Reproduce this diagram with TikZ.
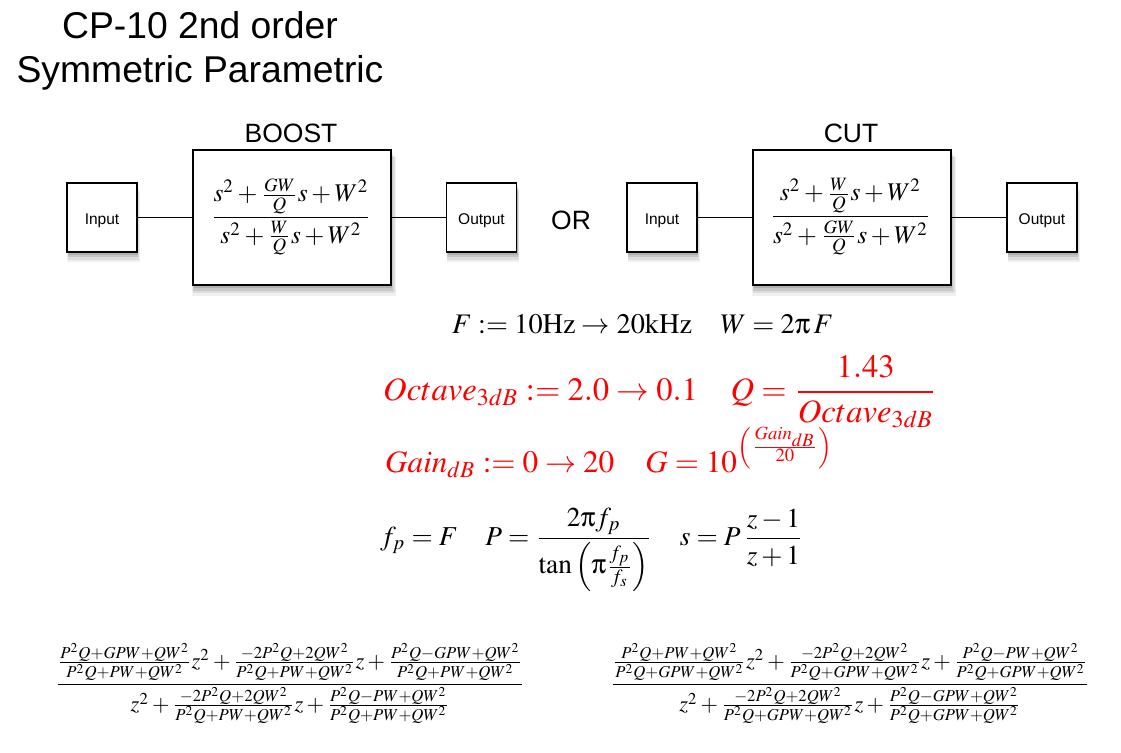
\documentclass[tikz,border=0pt]{standalone}
\usepackage{mathptmx}
\usepackage[Symbol]{upgreek}
\usepackage[no-math]{fontspec}
\setmainfont{Liberation Sans}
\usepackage{graphicx}
\usetikzlibrary{shadows}
\tikzset{
  myshadow/.style={
    drop shadow={shadow xshift=1pt,shadow yshift=-3pt,opacity=0.10,fill=black,shadow scale=1.00},
    drop shadow={shadow xshift=1pt,shadow yshift=-5pt,opacity=0.10,fill=black,shadow scale=1.01},
    drop shadow={shadow xshift=1.5pt,shadow yshift=-7pt,opacity=0.08,fill=black,shadow scale=1.02},
    drop shadow={shadow xshift=1.5pt,shadow yshift=-9pt,opacity=0.06,fill=black,shadow scale=1.03}
  },
  smallbox/.style={draw=black, line width=1.2pt, fill=white, myshadow,
    minimum width=70pt, minimum height=69pt, inner sep=0pt,
    text height=13pt, text depth=0pt,
    font=\fontsize{15.5}{18}\selectfont},
  bigbox/.style={draw=black, line width=1.2pt, fill=white, myshadow,
    minimum width=198pt, minimum height=135pt, inner sep=0pt},
  wire/.style={line width=1.2pt},
  label/.style={inner sep=0pt, anchor=base, font=\fontsize{26.5}{30}\selectfont},
  eqn/.style={inner sep=0pt}
}
\begin{document}
\begin{tikzpicture}[x=1pt,y=-1pt]
\useasboundingbox[fill=white] (0,0) rectangle (1121,752);

% title
\node[inner sep=0pt, anchor=base, font=\fontsize{37.3}{44}\selectfont] (t1) at (200,38) {CP-10 2nd order};
\node[inner sep=0pt, anchor=base, font=\fontsize{37.3}{44}\selectfont] (t2) at (200,82) {Symmetric Parametric};

% BOOST
\node[label] (lb) at (291,142) {BOOST};
\node[smallbox] (in1) at (102,217.5) {Input};
\node[bigbox] (b1) at (292,217.5) {};
\node[eqn] (f1) at (291,217) {\resizebox{161pt}{!}{$\displaystyle\frac{s^2+\frac{GW}{Q}s+W^2}{s^2+\frac{W}{Q}s+W^2}$}};
\node[smallbox] (out1) at (481.5,217.5) {Output};
\draw[wire] (in1) -- (b1);
\draw[wire] (b1) -- (out1);

\node[label] (or) at (571,229) {OR};

% CUT
\node[label] (lc) at (851,142) {CUT};
\node[smallbox] (in2) at (662,217.5) {Input};
\node[bigbox] (b2) at (852,217.5) {};
\node[eqn] (f2) at (850.5,217) {\resizebox{161pt}{!}{$\displaystyle\frac{s^2+\frac{W}{Q}s+W^2}{s^2+\frac{GW}{Q}s+W^2}$}};
\node[smallbox] (out2) at (1042,217.5) {Output};
\draw[wire] (in2) -- (b2);
\draw[wire] (b2) -- (out2);

% equations
\node[eqn, anchor=base west] (e1) at (452,333) {\resizebox{381pt}{!}{$F := 10\mathrm{Hz}\rightarrow 20\mathrm{kHz}\quad W=2\uppi\,F$}};
\node[eqn, anchor=base west, text=red] (e2) at (383,400) {\resizebox{554pt}{!}{$\displaystyle Octave_{3dB} := 2.0\rightarrow 0.1\quad Q=\frac{1.43}{Octave_{3dB}}$}};
\node[eqn, anchor=base west, text=red] (e3) at (385,472) {\resizebox{449pt}{!}{$\displaystyle Gain_{dB} := 0\rightarrow 20\quad G=10^{\left(\frac{Gain_{dB}}{20}\right)}$}};
\node[eqn, anchor=west] (e4) at (380,550) {\resizebox{423pt}{!}{$\displaystyle f_p=F\quad P=\frac{2\uppi f_p}{\tan\left(\uppi\frac{f_p}{f_s}\right)}\quad s=P\,\frac{z-1}{z+1}$}};

% discrete transfer functions
\node[eqn] (d1) at (290,683.5) {\resizebox{470pt}{!}{$\displaystyle\frac{\frac{P^2Q+GPW+QW^2}{P^2Q+PW+QW^2}z^2+\frac{-2P^2Q+2QW^2}{P^2Q+PW+QW^2}z+\frac{P^2Q-GPW+QW^2}{P^2Q+PW+QW^2}}{z^2+\frac{-2P^2Q+2QW^2}{P^2Q+PW+QW^2}z+\frac{P^2Q-PW+QW^2}{P^2Q+PW+QW^2}}$}};
\node[eqn] (d2) at (850,683.5) {\resizebox{480pt}{!}{$\displaystyle\frac{\frac{P^2Q+PW+QW^2}{P^2Q+GPW+QW^2}z^2+\frac{-2P^2Q+2QW^2}{P^2Q+GPW+QW^2}z+\frac{P^2Q-PW+QW^2}{P^2Q+GPW+QW^2}}{z^2+\frac{-2P^2Q+2QW^2}{P^2Q+GPW+QW^2}z+\frac{P^2Q-GPW+QW^2}{P^2Q+GPW+QW^2}}$}};
\end{tikzpicture}
\end{document}
